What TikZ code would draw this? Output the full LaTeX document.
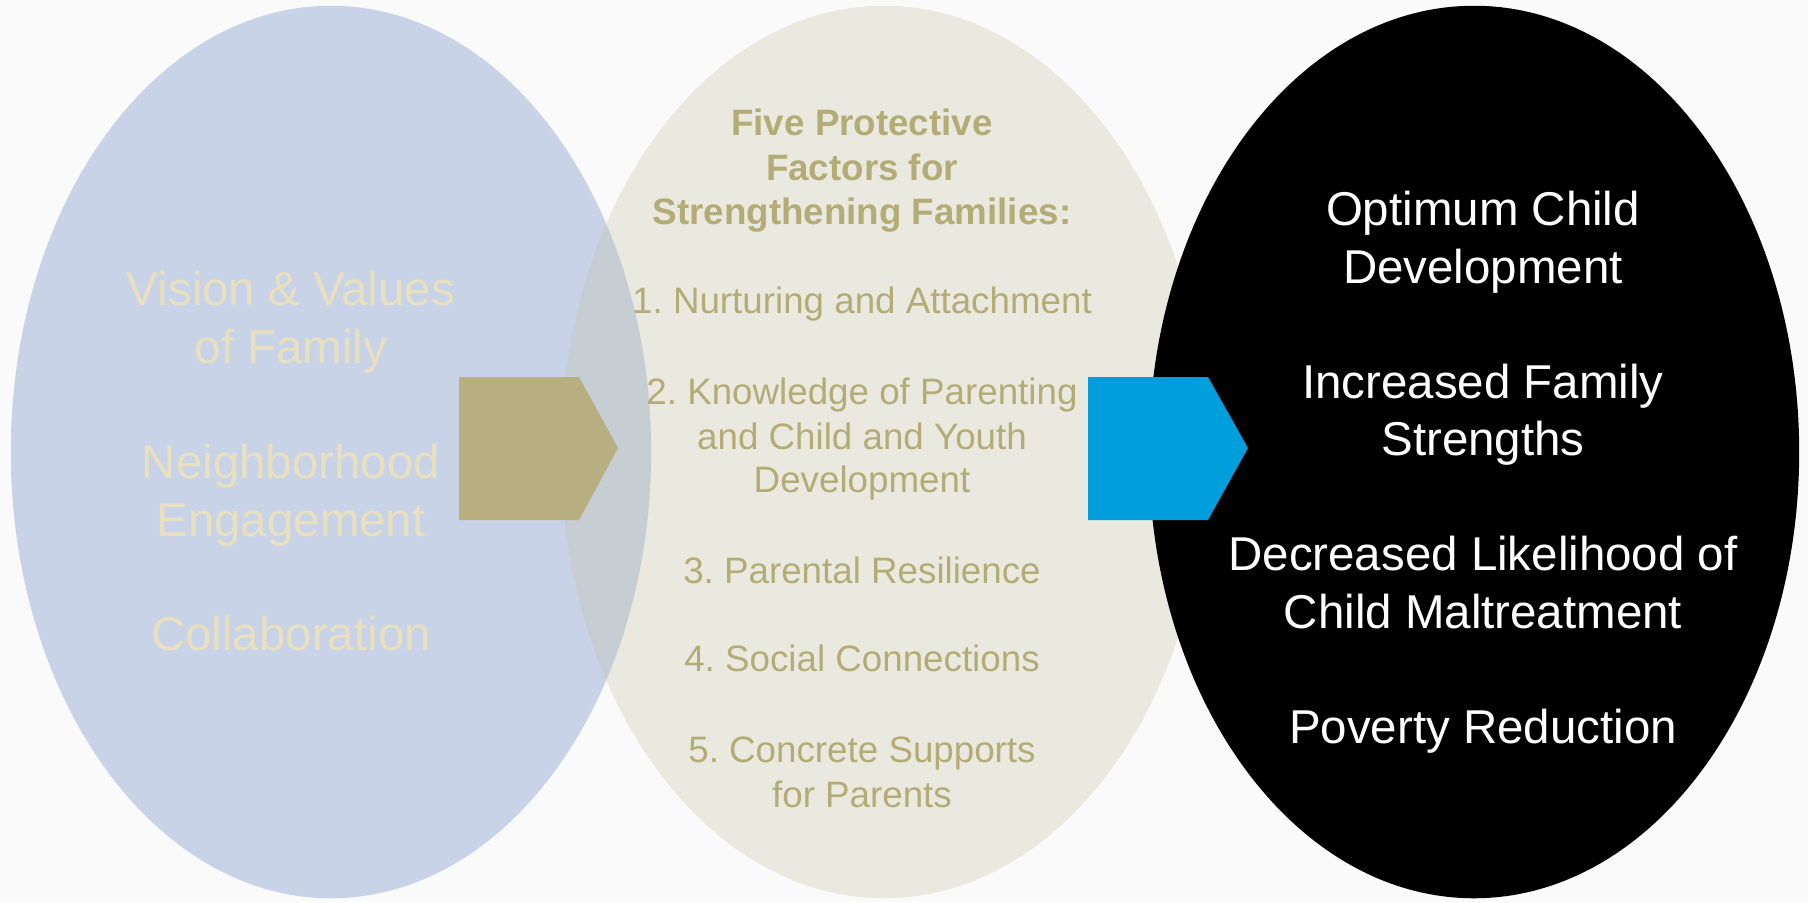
\documentclass[tikz,border=0pt]{standalone}
\usepackage{fontspec}
\setmainfont{Liberation Sans}
\usetikzlibrary{shapes.geometric}
\frenchspacing

\definecolor{paper}{RGB}{250,250,250}
\definecolor{ovalblue}{RGB}{200,211,232}
\definecolor{ovalsand}{RGB}{196,193,162}
\definecolor{sandtxt}{RGB}{180,172,118}
\definecolor{palesand}{RGB}{233,224,192}
\definecolor{sandarrow}{RGB}{183,175,128}
\definecolor{skyarrow}{RGB}{0,158,218}

\begin{document}
\begin{tikzpicture}[x=0.01cm,y=-0.01cm]
  \def\cy{452}

\tikzstyle{oval}=[ellipse,inner sep=0pt,minimum height=8.92cm]
\tikzstyle{bigtxt}=[anchor=base,inner sep=0pt,font=\fontsize{13.5}{16}\selectfont]
\tikzstyle{smalltxt}=[anchor=base,inner sep=0pt,text=sandtxt,font=\fontsize{10.45}{12.8}\selectfont]
\tikzstyle{headtxt}=[smalltxt,font=\fontsize{10.45}{12.8}\selectfont\bfseries]

\useasboundingbox (0,0) rectangle (1808,902);
\fill[paper] (0,0) rectangle (1808,902);

% left oval
\node[oval,fill=ovalblue,minimum width=6.4cm] (values) at (331,\cy) {};
\node[bigtxt,text=palesand] (L1) at (291,305) {Vision \& Values};
\node[bigtxt,text=palesand] (L2) at (291,363) {of Family};
\node[bigtxt,text=palesand] (L3) at (291,478) {Neighborhood};
\node[bigtxt,text=palesand] (L4) at (291,536) {Engagement};
\node[bigtxt,text=palesand] (L5) at (291,650) {Collaboration};

% middle oval
\node[oval,fill=ovalsand,fill opacity=0.29,minimum width=6.46cm] (factors) at (884,\cy) {};
\fill[sandarrow] (459,377) -- (579,377) -- (618,448) -- (579,520) -- (459,520) -- cycle;
\node[headtxt] (T1) at (862,135) {Five Protective};
\node[headtxt] (T2) at (862,180) {Factors for};
\node[headtxt] (T3) at (862,224) {Strengthening Families:};
\node[smalltxt] (M1) at (862,313) {1. Nurturing and Attachment};
\node[smalltxt] (M2) at (862,404) {2. Knowledge of Parenting};
\node[smalltxt] (M3) at (862,449) {and Child and Youth};
\node[smalltxt] (M4) at (862,492) {Development};
\node[smalltxt] (M5) at (862,583) {3. Parental Resilience};
\node[smalltxt] (M6) at (862,671) {4. Social Connections};
\node[smalltxt] (M7) at (862,762) {5. Concrete Supports};
\node[smalltxt] (M8) at (862,807) {for Parents};

% right oval
\node[oval,fill=black,minimum width=6.5cm] (outcomes) at (1474,\cy) {};
\fill[skyarrow] (1088,377) -- (1208,377) -- (1248,448) -- (1208,520) -- (1088,520) -- cycle;
\node[bigtxt,text=white] (R1) at (1483,225) {Optimum Child};
\node[bigtxt,text=white] (R2) at (1483,283) {Development};
\node[bigtxt,text=white] (R3) at (1483,398) {Increased Family};
\node[bigtxt,text=white] (R4) at (1483,455) {Strengths};
\node[bigtxt,text=white] (R5) at (1483,570) {Decreased Likelihood of};
\node[bigtxt,text=white] (R6) at (1483,628) {Child Maltreatment};
\node[bigtxt,text=white] (R7) at (1483,743) {Poverty Reduction};
\end{tikzpicture}
\end{document}
